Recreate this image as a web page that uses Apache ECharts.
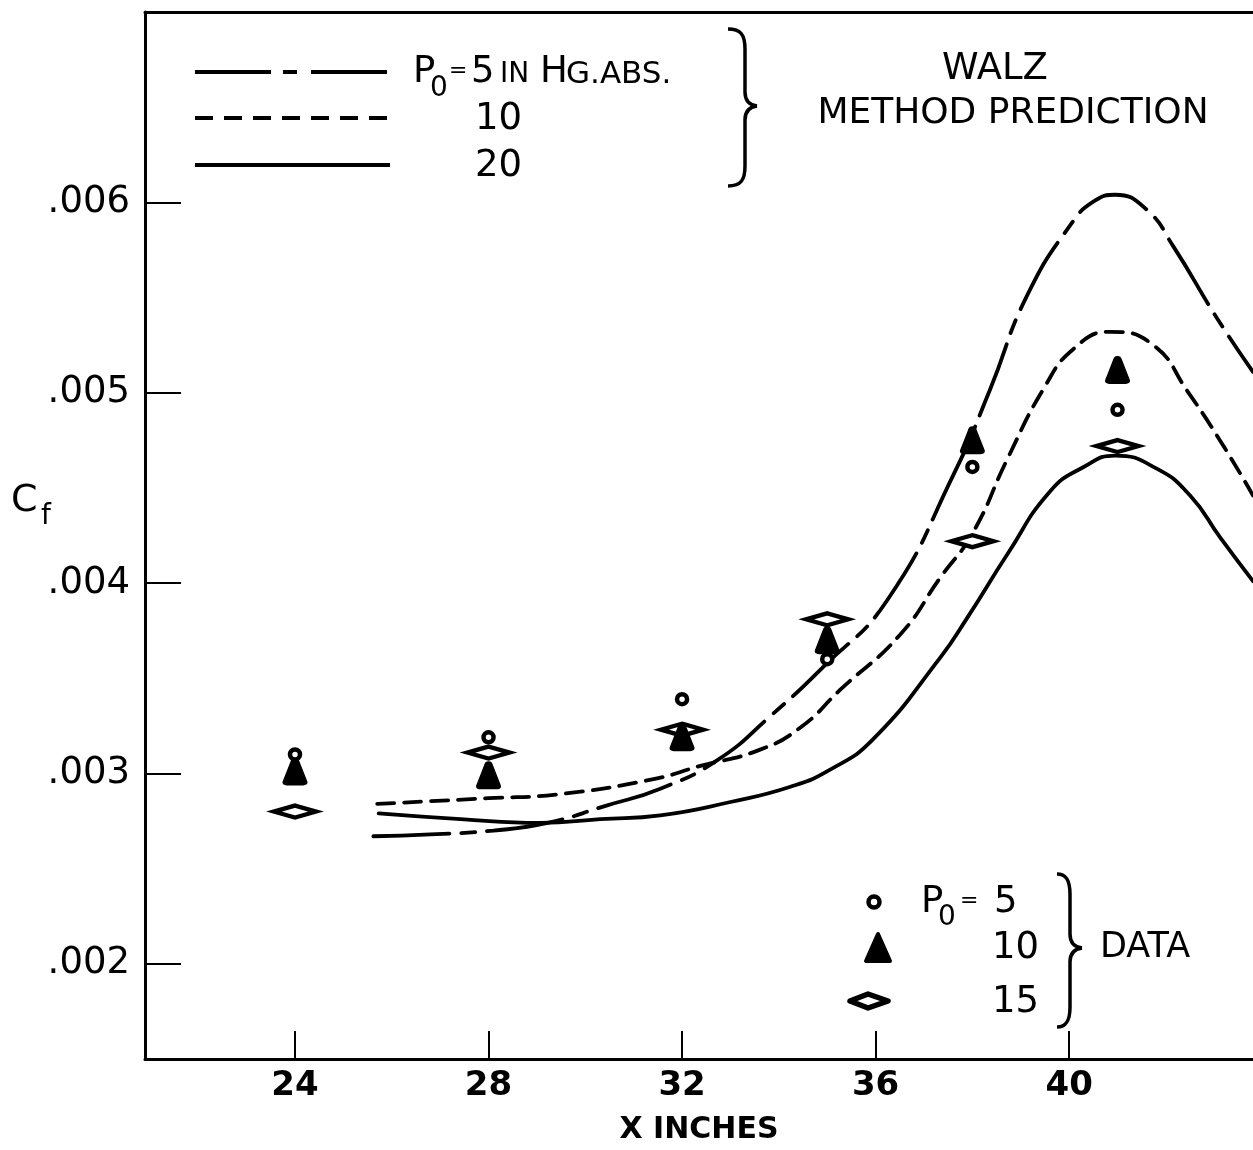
<!DOCTYPE html>
<html>
<head>
<meta charset="utf-8">
<script src="https://cdn.jsdelivr.net/npm/echarts@6/dist/echarts.min.js"></script>
<style>
html,body{margin:0;padding:0;background:#fff;}
#chart{width:1253px;height:1150px;}
</style>
</head>
<body>
<div id="chart"></div>
<script>
// ---- tick labels ----
const xTicks = [24, 28, 32, 36, 40];
const yTicks = [0.002, 0.003, 0.004, 0.005, 0.006];

// ---- measured data (x in inches) ----
const dataX = [24, 28, 32, 35, 38, 41];
const dataP5  = [0.00310, 0.00319, 0.00339, 0.00360, 0.00461, 0.00491];
const dataP10 = [0.00301, 0.00299, 0.00319, 0.00370, 0.00475, 0.00512];
const dataP15 = [0.00280, 0.00311, 0.00323, 0.00381, 0.00422, 0.00472];

// ---- Walz method prediction curves ----
const curveX5 = [25.62, 26.80, 28.10, 29.22, 30.42, 31.55, 32.73, 33.82, 34.92, 36.24, 37.61, 38.37, 39.13, 40.08, 40.54, 40.95, 41.61, 42.15, 43.06, 43.80];
const curveP5 = [0.00267, 0.00268, 0.00270, 0.00274, 0.00283, 0.00292, 0.00307, 0.00330, 0.00356, 0.00391, 0.00457, 0.00502, 0.00551, 0.00590, 0.00601, 0.00604, 0.00596, 0.00577, 0.00539, 0.00511];

const curveX10 = [25.70, 28.00, 29.42, 31.41, 32.38, 33.56, 34.44, 35.27, 36.51, 37.34, 38.00, 38.72, 39.47, 40.09, 40.85, 41.74, 42.44, 43.19, 43.80];
const curveP10 = [0.00284, 0.00287, 0.00289, 0.00297, 0.00304, 0.00312, 0.00324, 0.00344, 0.00373, 0.00403, 0.00426, 0.00465, 0.00502, 0.00523, 0.00532, 0.00525, 0.00501, 0.00472, 0.00446];

const curveX20 = [25.73, 27.42, 29.07, 30.31, 31.55, 33.00, 34.24, 35.06, 35.95, 37.34, 37.90, 38.72, 39.60, 40.30, 40.95, 41.82, 42.50, 43.12, 43.80];
const curveP20 = [0.00279, 0.00276, 0.00274, 0.00276, 0.00278, 0.00285, 0.00293, 0.00302, 0.00318, 0.00361, 0.00382, 0.00415, 0.00448, 0.00461, 0.00467, 0.00460, 0.00446, 0.00424, 0.00401];

const zip = (xs, ys) => xs.map((x, i) => [x, ys[i]]);

const FONT = 'DejaVu Sans';
const BLACK = '#000';
const triPath = 'path://M50,0 C57,0 59,6 61,14 L80,84 C83,95 77,100 66,100 L34,100 C23,100 17,95 20,84 L39,14 C41,6 43,0 50,0 Z';

const chart = echarts.init(document.getElementById('chart'), null, {renderer: 'canvas'});

const lineBase = {type: 'line', showSymbol: false, smooth: 0.5, silent: true, z: 2};

function txt(x, y, text, size, extra) {
  return {
    type: 'text', x: x, y: y, silent: true,
    style: Object.assign({text: text, fontFamily: FONT, fontSize: size, fill: BLACK, verticalAlign: 'middle', align: 'left'}, extra || {})
  };
}
const braceStyle = {stroke: BLACK, lineWidth: 3.5, fill: null};
function bez(x1, y1, c1x, c1y, c2x, c2y, x2, y2) {
  return {type: 'bezierCurve', silent: true, shape: {x1: x1, y1: y1, cpx1: c1x, cpy1: c1y, cpx2: c2x, cpy2: c2y, x2: x2, y2: y2}, style: braceStyle};
}
function seg(x1, y1, x2, y2) {
  return {type: 'line', silent: true, shape: {x1: x1, y1: y1, x2: x2, y2: y2}, style: braceStyle};
}
// right-pointing curly brace
function brace(xl, xs, xt, yt, ym, yb) {
  return [
    bez(xl, yt, xs - 4, yt, xs, yt + 6, xs, yt + 20),
    seg(xs, yt + 20, xs, ym - 14),
    bez(xs, ym - 14, xs, ym - 5, xs + 4, ym - 1, xt, ym),
    bez(xt, ym, xs + 4, ym + 1, xs, ym + 5, xs, ym + 14),
    seg(xs, ym + 14, xs, yb - 20),
    bez(xs, yb - 20, xs, yb - 6, xs - 4, yb, xl, yb)
  ];
}

const graphics = [
  // prediction legend lines
  {type: 'line', silent: true, shape: {x1: 195, y1: 72, x2: 390, y2: 72}, style: {stroke: BLACK, lineWidth: 4, lineDash: [76, 12, 14, 14]}},
  {type: 'line', silent: true, shape: {x1: 195, y1: 118, x2: 390, y2: 118}, style: {stroke: BLACK, lineWidth: 4, lineDash: [18, 11]}},
  {type: 'line', silent: true, shape: {x1: 195, y1: 165, x2: 390, y2: 165}, style: {stroke: BLACK, lineWidth: 4}},
  txt(413, 72, 'P', 37),
  txt(430, 89, '0', 28),
  txt(449, 71, '=', 22),
  txt(471, 72, '5', 37),
  txt(500, 75, 'IN', 28),
  txt(540, 72, 'H', 37),
  txt(566, 75, 'G.ABS.', 31),
  txt(475, 119, '10', 37),
  txt(475, 166, '20', 37),
  ...brace(728, 745, 757, 29, 106, 186),
  txt(995, 69, 'WALZ', 37, {align: 'center'}),
  txt(1013, 114, 'METHOD PREDICTION', 36, {align: 'center'}),
  // y axis name C_f
  txt(11, 501, 'C', 38),
  txt(41, 517, 'f', 28),
  // data legend
  {type: 'circle', silent: true, shape: {cx: 874, cy: 902, r: 5.5}, style: {fill: '#fff', stroke: BLACK, lineWidth: 4.5}},
  {type: 'polygon', silent: true, shape: {points: [[878, 934], [866, 961], [890, 961]]}, style: {fill: BLACK, stroke: BLACK, lineWidth: 4, lineJoin: 'round'}},
  {type: 'polygon', silent: true, shape: {points: [[850, 1001], [868, 994], [888, 1001], [868, 1008]]}, style: {fill: '#fff', stroke: BLACK, lineWidth: 5.5, lineJoin: 'round'}},
  txt(921, 902, 'P', 37),
  txt(938, 918, '0', 28),
  txt(960, 901, '=', 22),
  txt(994, 902, '5', 37),
  txt(992, 948, '10', 37),
  txt(992, 1002, '15', 37),
  ...brace(1057, 1070, 1082, 874, 948, 1027),
  txt(1100, 948, 'DATA', 35)
];

const option = {
  backgroundColor: '#fff',
  animation: false,
  grid: {left: 145, right: 0, top: 12, bottom: 87, containLabel: false},
  xAxis: [{
    type: 'value', min: 20.9, max: 43.8, position: 'bottom',
    axisLine: {show: true, onZero: false, lineStyle: {color: BLACK, width: 3}},
    axisTick: {show: true, inside: true, length: 28, lineStyle: {color: BLACK, width: 2}, customValues: xTicks},
    axisLabel: {show: true, customValues: xTicks, margin: 10, fontFamily: FONT, fontSize: 34, fontWeight: 'bold', color: BLACK},
    splitLine: {show: false},
    name: 'X INCHES', nameLocation: 'middle', nameGap: 56,
    nameTextStyle: {fontFamily: FONT, fontSize: 30, fontWeight: 'bold', color: BLACK}
  }, {
    type: 'value', min: 20.9, max: 43.8, position: 'top',
    axisLine: {show: true, onZero: false, lineStyle: {color: BLACK, width: 3}},
    axisTick: {show: false}, axisLabel: {show: false}, splitLine: {show: false}
  }],
  yAxis: [{
    type: 'value', min: 0.0015, max: 0.007,
    axisLine: {show: true, onZero: false, lineStyle: {color: BLACK, width: 3}},
    axisTick: {show: true, inside: true, length: 36, lineStyle: {color: BLACK, width: 2}, customValues: yTicks},
    axisLabel: {show: true, customValues: yTicks, margin: 15, fontFamily: FONT, fontSize: 37, color: BLACK,
      formatter: v => v.toFixed(3).replace(/^0/, '')},
    splitLine: {show: false}
  }],
  series: [
    Object.assign({}, lineBase, {name: 'P0=5 prediction', data: zip(curveX5, curveP5),
      lineStyle: {color: BLACK, width: 3.8, type: [76, 12, 14, 12], cap: 'round'}}),
    Object.assign({}, lineBase, {name: 'P0=10 prediction', data: zip(curveX10, curveP10),
      lineStyle: {color: BLACK, width: 3.8, type: [17, 10], cap: 'round'}}),
    Object.assign({}, lineBase, {name: 'P0=20 prediction', data: zip(curveX20, curveP20),
      lineStyle: {color: BLACK, width: 3.8, type: 'solid', cap: 'round'}}),
    {type: 'scatter', name: 'P0=15 data', data: zip(dataX, dataP15), symbol: 'diamond', symbolSize: [42, 12],
      itemStyle: {color: '#fff', borderColor: BLACK, borderWidth: 6, opacity: 1}, z: 3, silent: true},
    {type: 'scatter', name: 'P0=10 data', data: zip(dataX, dataP10), symbol: triPath, symbolSize: [25, 28],
      itemStyle: {color: BLACK, opacity: 1}, z: 4, silent: true},
    {type: 'scatter', name: 'P0=5 data', data: zip(dataX, dataP5), symbol: 'circle', symbolSize: 10,
      itemStyle: {color: '#fff', borderColor: BLACK, borderWidth: 4.5, opacity: 1}, z: 5, silent: true}
  ],
  graphic: graphics
};
chart.setOption(option);
</script>
</body>
</html>
